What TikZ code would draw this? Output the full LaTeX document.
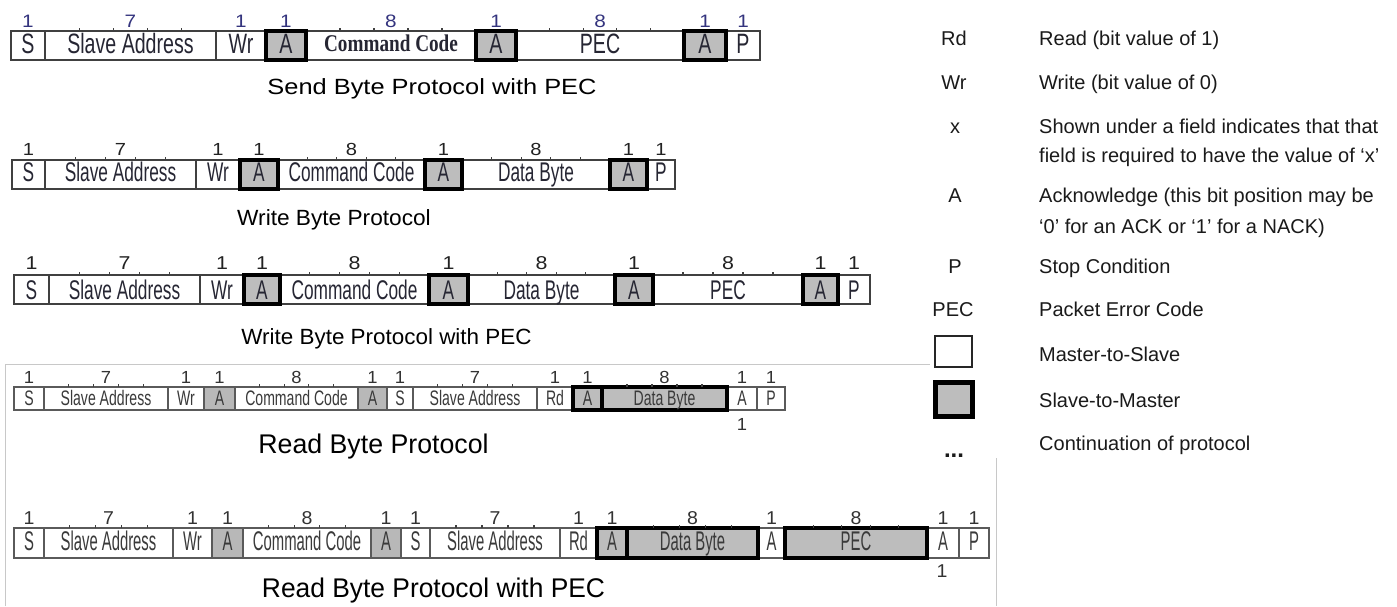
\documentclass[tikz,border=0pt]{standalone}
\usepackage{fontspec}
\setmainfont{Liberation Sans}
\newfontfamily\tnrfam{Liberation Serif}
\usepackage{graphicx}
\usetikzlibrary{calc}
\definecolor{bd}{HTML}{404040}
\definecolor{bdb}{HTML}{5A5A5A}
\definecolor{gf}{HTML}{BDBDBD}
\definecolor{gfb}{HTML}{B8B8B8}
\definecolor{txt}{HTML}{262633}
\definecolor{txtb}{HTML}{3A3A3A}
\definecolor{numa}{HTML}{34347E}
\definecolor{numb}{HTML}{222222}
\definecolor{numd}{HTML}{333333}
\definecolor{lg}{HTML}{1A1A1A}
\definecolor{frm}{HTML}{C8C8C8}
\newcommand\fsz[1]{\fontsize{#1}{#1}\selectfont}
\newcommand\ccfont{\tnrfam\bfseries\fontsize{24}{24}\selectfont}
\newcommand\fld[6]{%
  \node[field,#4,minimum width={(#3)-(#2)},minimum height={\yb-\ya}] (#1) at ({((#2)+(#3))/2},{(\ya+\yb)/2}) {\scalebox{\rx}[1]{#5}};
  \node[num] (#1n) at ({((#2)+(#3))/2},\yn) {\scalebox{\nx}[1]{#6}};}
\newcommand\tkk[1]{\foreach \q in {1,2,3,4}{\draw[tickl] ($(#1.north west)!\q/5!(#1.north east)$) -- ++(0,-3.5);}}
\tikzset{
  field/.style={draw=bd, line width=1.3pt, inner sep=0pt, outer sep=0pt, text=txt, cur},
  sm/.style={fill=gf, draw=black, line width=4pt},
  gr/.style={fill=gfb},
  num/.style={inner sep=0pt, text=\numcol, font=\fsz{\nsz}},
  tickl/.style={draw=bd, line width=1.2pt},
  r1/.style={font=\fsz{28}, text height=20pt, text depth=4pt},
  cc1/.style={font=\ccfont, text height=16pt, text depth=3.6pt},
  r2/.style={font=\fsz{27}, text height=19.4pt, text depth=5pt},
  r3/.style={font=\fsz{27}, text height=19.4pt, text depth=0pt},
  r4/.style={font=\fsz{21}, text height=15pt, text depth=1pt, draw=bdb, line width=1.5pt, text=txtb},
  r5/.style={font=\fsz{27}, text height=19.3pt, text depth=5pt, draw=bdb, line width=1.5pt, text=txtb},
  captxt/.style={inner sep=0pt, anchor=base, text=black},
  leg/.style={font=\fsz{20}, inner sep=0pt, anchor=base west, text=lg},
  legs/.style={font=\fsz{20}, inner sep=0pt, anchor=base, text=lg},
  cur/.style={}
}
\begin{document}
\begin{tikzpicture}[x=1pt,y=-1pt]
\useasboundingbox (0,0) rectangle (1397,606);
\fill[white] (0,0) rectangle (1397,606);

% frame lines of the pasted pictures
\draw[frm, line width=1pt] (5,606) -- (5,364) -- (930,364);
\draw[frm, line width=1pt] (996,458) -- (996,606);

% ---------------- Row 1: Send Byte Protocol with PEC
\def\ya{31}\def\yb{60}\def\yn{21.5}\def\rx{0.7}\def\nx{1.15}\def\nsz{18}\def\numcol{numa}
\tikzset{cur/.style={r1}}
\fld{r1s}{11}{45}{}{S}{1}
\fld{r1sa}{45}{216}{}{Slave Address}{7}
\fld{r1wr}{216}{266}{}{Wr}{1}
\node[field,cc1,minimum width=170,minimum height=29] (r1cc) at (391,45.5) {\scalebox{0.8}[1]{Command Code}};
\node[num] (r1ccn) at (391,21.5) {\scalebox{\nx}[1]{8}};
\fld{r1pec}{516}{684}{}{PEC}{8}
\fld{r1p}{726}{760}{}{P}{1}
\fld{r1a1}{266}{306}{sm}{A}{1}
\fld{r1a2}{476}{516}{sm}{A}{1}
\fld{r1a3}{684}{726}{sm}{A}{1}
\tkk{r1sa}\tkk{r1cc}\tkk{r1pec}
\node[captxt, font=\fsz{22}] (c1) at (432,94.3) {\scalebox{1.155}[1]{Send Byte Protocol with PEC}};

% ---------------- Row 2: Write Byte Protocol
\def\ya{160}\def\yb{189}\def\yn{149}\def\rx{0.64}\def\nsz{17.5}\def\numcol{numb}
\tikzset{cur/.style={r2}}
\fld{r2s}{12}{45}{}{S}{1}
\fld{r2sa}{45}{196}{}{Slave Address}{7}
\fld{r2wr}{196}{240}{}{Wr}{1}
\fld{r2cc}{278}{425}{}{Command Code}{8}
\fld{r2db}{462}{610}{}{Data Byte}{8}
\fld{r2p}{647}{675}{}{P}{1}
\fld{r2a1}{240}{278}{sm}{A}{1}
\fld{r2a2}{425}{462}{sm}{A}{1}
\fld{r2a3}{610}{647}{sm}{A}{1}
\tkk{r2sa}\tkk{r2cc}\tkk{r2db}
\node[captxt, font=\fsz{22}] (c2) at (334,225) {\scalebox{1.03}[1]{Write Byte Protocol}};

% ---------------- Row 3: Write Byte Protocol with PEC
\def\ya{275}\def\yb{304}\def\yn{263}\def\rx{0.64}\def\nsz{18.6}
\tikzset{cur/.style={r3}}
\fld{r3s}{14}{49}{}{S}{1}
\fld{r3sa}{49}{200}{}{Slave Address}{7}
\fld{r3wr}{200}{244}{}{Wr}{1}
\fld{r3cc}{280}{429}{}{Command Code}{8}
\fld{r3db}{468}{615}{}{Data Byte}{8}
\fld{r3pec}{653}{803}{}{PEC}{8}
\fld{r3p}{838}{870}{}{P}{1}
\fld{r3a1}{244}{280}{sm}{A}{1}
\fld{r3a2}{429}{468}{sm}{A}{1}
\fld{r3a3}{615}{653}{sm}{A}{1}
\fld{r3a4}{803}{838}{sm}{A}{1}
\tkk{r3sa}\tkk{r3cc}\tkk{r3db}\tkk{r3pec}
\node[captxt, font=\fsz{22}] (c3) at (386.5,344) {\scalebox{1.02}[1]{Write Byte Protocol with PEC}};

% ---------------- Row 4: Read Byte Protocol
\def\ya{387}\def\yb{410}\def\yn{377}\def\rx{0.67}\def\nsz{17.5}\def\nx{1.05}\def\numcol{numd}
\tikzset{cur/.style={r4}}
\fld{r4s}{14}{44}{}{S}{1}
\fld{r4sa}{44}{168}{}{Slave Address}{7}
\fld{r4wr}{168}{204}{}{Wr}{1}
\fld{r4a1}{204}{235}{gr}{A}{1}
\fld{r4cc}{235}{358}{}{Command Code}{8}
\fld{r4a2}{358}{387}{gr}{A}{1}
\fld{r4s2}{387}{413}{}{S}{1}
\fld{r4sa2}{413}{537}{}{Slave Address}{7}
\fld{r4rd}{537}{573}{}{Rd}{1}
\fld{r4a4}{727}{757}{}{A}{1}
\fld{r4p}{757}{785}{}{P}{1}
\fld{r4a3}{573}{602}{sm}{A}{1}
\fld{r4db}{602}{727}{sm}{Data Byte}{8}
\tkk{r4sa}\tkk{r4cc}\tkk{r4sa2}\tkk{r4db}
\node[num] (r4x) at (742,424) {\scalebox{\nx}[1]{1}};
\node[captxt, font=\fsz{27}] (c4) at (373.5,453) {\scalebox{0.99}[1]{Read Byte Protocol}};

% ---------------- Row 5: Read Byte Protocol with PEC
\def\ya{528}\def\yb{558}\def\yn{518}\def\rx{0.55}\def\nsz{18.6}\def\nx{1.05}
\tikzset{cur/.style={r5}}
\fld{r5s}{14}{44}{}{S}{1}
\fld{r5sa}{44}{173}{}{Slave Address}{7}
\fld{r5wr}{173}{212}{}{Wr}{1}
\fld{r5a1}{212}{243}{gr}{A}{1}
\fld{r5cc}{243}{371}{}{Command Code}{8}
\fld{r5a2}{371}{401}{gr}{A}{1}
\fld{r5s2}{401}{430}{}{S}{1}
\fld{r5sa2}{430}{560}{}{Slave Address}{7}
\fld{r5rd}{560}{597}{}{Rd}{1}
\fld{r5a4}{758}{785}{}{A}{1}
\fld{r5a5}{927}{959}{}{A}{1}
\fld{r5p}{959}{989}{}{P}{1}
\fld{r5a3}{597}{627}{sm}{A}{1}
\fld{r5db}{627}{758}{sm}{Data Byte}{8}
\fld{r5pec}{785}{927}{sm}{PEC}{8}
\tkk{r5sa}\tkk{r5cc}\tkk{r5sa2}\tkk{r5db}\tkk{r5pec}
\node[num] (r5x) at (942,571) {\scalebox{\nx}[1]{1}};
\node[captxt, font=\fsz{27}] (c5) at (433.5,597) {\scalebox{0.977}[1]{Read Byte Protocol with PEC}};

% ---------------- Legend
\node[legs] (lrd) at (954,45) {Rd};
\node[leg] (trd) at (1039,45) {Read (bit value of 1)};
\node[legs] (lwr) at (954,89) {Wr};
\node[leg] (twr) at (1039,89) {Write (bit value of 0)};
\node[legs] (lx) at (955,133) {x};
\node[leg] (tx1) at (1039,133) {Shown under a field indicates that that};
\node[leg] (tx2) at (1039,162) {field is required to have the value of ‘x’};
\node[legs] (la) at (955,202) {A};
\node[leg] (ta1) at (1039,202) {Acknowledge (this bit position may be};
\node[leg] (ta2) at (1039,233) {‘0’ for an ACK or ‘1’ for a NACK)};
\node[legs] (lp) at (955,273) {P};
\node[leg] (tp) at (1039,273) {Stop Condition};
\node[legs] (lpec) at (953,316) {PEC};
\node[leg] (tpec) at (1039,316) {Packet Error Code};
\node[draw=black!85, line width=2.5pt, fill=white, minimum width=37, minimum height=31, inner sep=0pt, outer sep=0pt] (lm) at (953.5,351.5) {};
\node[leg] (tm) at (1039,361) {Master-to-Slave};
\node[draw=black, line width=5pt, fill=gf, minimum width=37, minimum height=34, inner sep=0pt, outer sep=0pt] (ls) at (953.5,399) {};
\node[leg] (ts) at (1039,407) {Slave-to-Master};
\node[legs, font=\fsz{24}\bfseries] (ldots) at (954,457) {...};
\node[leg] (tc) at (1039,450) {Continuation of protocol};
\end{tikzpicture}
\end{document}
